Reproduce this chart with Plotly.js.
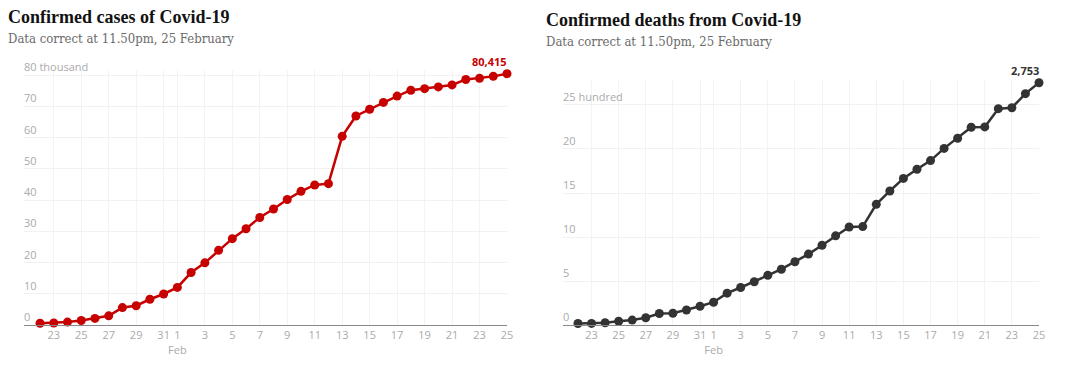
<!DOCTYPE html>
<html>
<head>
<meta charset="utf-8">
<script src="https://cdn.plot.ly/plotly-3.0.1.min.js"></script>
<style>
html,body{margin:0;padding:0;background:#fff;}
#chart{width:1080px;height:365px;}
</style>
</head>
<body>
<div id="chart"></div>
<script>
const dates = ["2020-01-22","2020-01-23","2020-01-24","2020-01-25","2020-01-26","2020-01-27","2020-01-28","2020-01-29","2020-01-30","2020-01-31",
  "2020-02-01","2020-02-02","2020-02-03","2020-02-04","2020-02-05","2020-02-06","2020-02-07","2020-02-08","2020-02-09","2020-02-10",
  "2020-02-11","2020-02-12","2020-02-13","2020-02-14","2020-02-15","2020-02-16","2020-02-17","2020-02-18","2020-02-19","2020-02-20",
  "2020-02-21","2020-02-22","2020-02-23","2020-02-24","2020-02-25"];
const cases = [555,654,941,1434,2118,2927,5578,6166,8234,9927,
  12038,16787,19881,23892,27635,30794,34391,37120,40150,42762,
  44802,45221,60368,66885,69030,71224,73258,75136,75639,76197,
  76819,78572,78958,79561,80415];
const deaths = [17,18,26,42,56,82,131,133,171,213,
  259,362,426,492,564,634,719,806,906,1013,
  1113,1118,1371,1523,1666,1770,1868,2007,2122,2247,
  2251,2458,2469,2629,2753];
const xTickVals = ["2020-01-23","2020-01-25","2020-01-27","2020-01-29","2020-01-31","2020-02-01","2020-02-03","2020-02-05","2020-02-07","2020-02-09",
  "2020-02-11","2020-02-13","2020-02-15","2020-02-17","2020-02-19","2020-02-21","2020-02-23","2020-02-25"];
const xTickText = ["23","25","27","29","31","1<br>Feb","3","5","7","9","11","13","15","17","19","21","23","25"];
const casesTickVals = [0,10000,20000,30000,40000,50000,60000,70000,80000];
const casesTickText = ["0","10","20","30","40","50","60","70","80 thousand"];
const deathsTickVals = [0,500,1000,1500,2000,2500];
const deathsTickText = ["0","5","10","15","20","25 hundred"];
const casesTitle = "Confirmed cases of Covid-19";
const deathsTitle = "Confirmed deaths from Covid-19";
const subtitle = "Data correct at 11.50pm, 25 February";

const RED = "#c70000", DARK = "#333333";
const tickFont = {family:"Open Sans, sans-serif", size:11, color:"#aaaaaa"};

function xax(domain, range){
  return {domain:domain, type:"date", range:range, tickmode:"array", tickvals:xTickVals, ticktext:xTickText,
    tickfont:tickFont, tickangle:0, showgrid:true, gridcolor:"#f3f3f3", gridwidth:1, zeroline:false,
    showline:true, linecolor:"#888", linewidth:1, ticks:"", fixedrange:true};
}
function yax(domain, range, tv, anchor){
  return {domain:domain, range:range, tickmode:"array", tickvals:tv, showticklabels:false,
    showgrid:true, gridcolor:"#f1f1f1", zeroline:false, showline:false,
    ticks:"", anchor:anchor, fixedrange:true};
}

const traces = [
  {x:dates, y:cases, xaxis:"x", yaxis:"y", mode:"lines+markers", type:"scatter",
   line:{color:RED, width:2.5}, marker:{color:RED, size:9}, cliponaxis:false, hoverinfo:"x+y"},
  {x:dates, y:deaths, xaxis:"x2", yaxis:"y2", mode:"lines+markers", type:"scatter",
   line:{color:DARK, width:2.5}, marker:{color:DARK, size:9}, cliponaxis:false, hoverinfo:"x+y"}
];

const titleFont = {family:"Liberation Serif, serif", size:18, color:"#121212", weight:700};
const subFont = {family:"DejaVu Serif Condensed, DejaVu Serif, serif", size:13, color:"#6a6a6a"};

function yLabels(vals, texts, xref, yref){
  return vals.map((v,i)=>({xref:xref+" domain", yref:yref, x:0, y:v, xanchor:"left", yanchor:"bottom",
    xshift:-2, yshift:-1, text:texts[i], showarrow:false, font:tickFont}));
}

const annotations = [
  {xref:"paper", yref:"paper", x:6/1080, y:1-17/365, xanchor:"left", yanchor:"middle", text:casesTitle, showarrow:false, font:titleFont},
  {xref:"paper", yref:"paper", x:6/1080, y:1-38/365, xanchor:"left", yanchor:"middle", text:subtitle, showarrow:false, font:subFont},
  {xref:"paper", yref:"paper", x:544/1080, y:1-20/365, xanchor:"left", yanchor:"middle", text:deathsTitle, showarrow:false, font:titleFont},
  {xref:"paper", yref:"paper", x:544/1080, y:1-42/365, xanchor:"left", yanchor:"middle", text:subtitle, showarrow:false, font:subFont},
  {xref:"x", yref:"y", x:dates[dates.length-1], y:cases[cases.length-1], xanchor:"right", yanchor:"bottom", yshift:3, xshift:2,
   text:cases[cases.length-1].toLocaleString("en-GB"), showarrow:false, font:{family:"Open Sans, sans-serif", size:11, color:RED, weight:700}},
  {xref:"x2", yref:"y2", x:dates[dates.length-1], y:deaths[deaths.length-1], xanchor:"right", yanchor:"bottom", yshift:3, xshift:2,
   text:deaths[deaths.length-1].toLocaleString("en-GB"), showarrow:false, font:{family:"Open Sans, sans-serif", size:11, color:DARK, weight:700}}
].concat(yLabels(casesTickVals, casesTickText, "x", "y"), yLabels(deathsTickVals, deathsTickText, "x2", "y2"));

const layout = {
  width:1080, height:365, margin:{l:0,r:0,t:0,b:0}, paper_bgcolor:"#fff", plot_bgcolor:"#fff",
  showlegend:false,
  xaxis: xax([24/1080, 507/1080], ["2020-01-20 20:00","2020-02-25"]),
  yaxis: yax([1-325/365, 1-70/365], [0,81600], casesTickVals, "x"),
  xaxis2: xax([563/1080, 1039/1080], ["2020-01-20 21:30","2020-02-25"]),
  yaxis2: yax([1-325/365, 1-80/365], [0,2784], deathsTickVals, "x2"),
  annotations: annotations
};
Plotly.newPlot("chart", traces, layout, {displayModeBar:false, staticPlot:true});
</script>
</body>
</html>
